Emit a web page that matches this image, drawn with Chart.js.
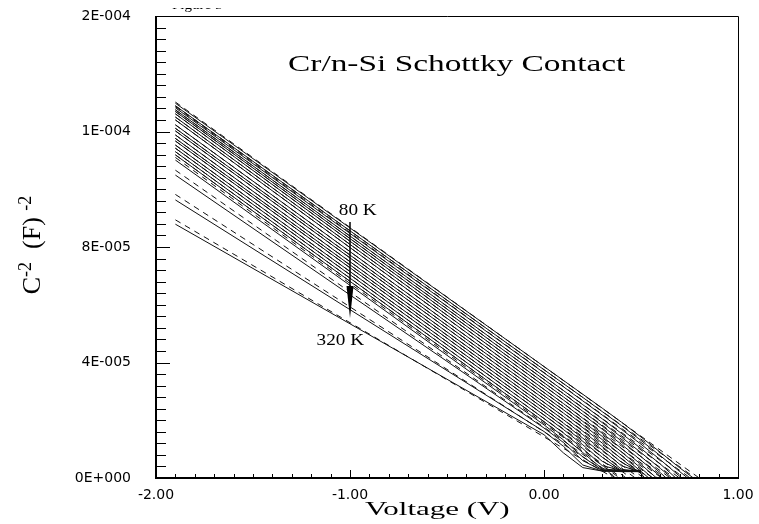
<!DOCTYPE html>
<html>
<head>
<meta charset="utf-8">
<script src="https://cdn.jsdelivr.net/npm/chart.js@4.4.1/dist/chart.umd.min.js"></script>
<style>
  html, body { margin: 0; padding: 0; background: #fff; }
</style>
</head>
<body>
<canvas id="cv" width="759" height="524"></canvas>
<script>
// bias points (V)
const volts = [-1.9, -1.0, -0.5, 0.0, 0.1, 0.2, 0.3, 0.4, 0.5, 0.6, 0.7];
const temps = [80, 90, 100, 110, 120, 130, 140, 150, 160, 170, 180, 190, 200,
               210, 220, 230, 240, 250, 260, 280, 300, 320];

// C^-2 in units of 1e-6 F^-2, one row per temperature
const curves = [
  [129.8, 86.6, 62.6, 38.6, 33.8, 29.0, 24.2, 19.3, 14.2, 8.9, 3.5],
  [128.9, 85.6, 61.6, 37.5, 32.7, 27.9, 23.0, 18.1, 13.0, 7.7, 2.2],
  [128.2, 84.7, 60.6, 36.4, 31.6, 26.7, 21.8, 16.8, 11.7, 6.3, null],
  [127.5, 83.8, 59.5, 35.2, 30.3, 25.4, 20.5, 15.4, 10.2, 4.8, null],
  [126.9, 82.9, 58.5, 34.1, 29.2, 24.2, 19.2, 14.1, 8.8, 3.3, null],
  [126.1, 82.0, 57.5, 33.0, 28.1, 23.1, 18.0, 12.8, 7.4, 1.8, null],
  [125.0, 80.9, 56.4, 31.9, 27.0, 22.0, 16.9, 11.6, 6.1, null, null],
  [124.0, 79.8, 55.3, 30.7, 25.8, 20.7, 15.5, 10.2, 4.7, null, null],
  [122.3, 78.4, 54.0, 29.6, 24.7, 19.6, 14.4, 9.0, 3.4, null, null],
  [121.1, 77.2, 52.9, 28.5, 23.6, 18.5, 13.3, 7.8, 2.3, null, null],
  [120.2, 76.2, 51.8, 27.4, 22.5, 17.4, 12.1, 6.6, 1.5, null, null],
  [118.8, 74.9, 50.6, 26.2, 21.3, 16.2, 10.9, 5.4, 1.8, null, null],
  [117.6, 73.8, 49.5, 25.1, 20.2, 15.0, 9.7, 4.2, 2.0, null, null],
  [116.7, 72.8, 48.4, 24.0, 19.0, 13.8, 8.4, 3.0, 2.1, null, null],
  [115.3, 71.5, 47.2, 22.9, 17.9, 12.7, 7.2, 2.5, 2.3, null, null],
  [114.2, 70.4, 46.1, 21.8, 16.8, 11.5, 5.8, 2.4, 2.2, null, null],
  [113.0, 69.2, 44.9, 20.6, 15.6, 10.2, 4.3, 2.6, 2.5, null, null],
  [111.9, 68.1, 43.8, 19.5, 14.4, 8.8, 3.2, 2.5, 2.4, null, null],
  [110.1, 66.7, 42.5, 18.4, 13.2, 7.3, 2.8, 2.7, 2.7, null, null],
  [104.9, 63.4, 40.4, 17.3, 12.3, 6.0, 2.6, 2.5, 2.6, null, null],
  [96.3, 58.3, 37.2, 16.1, 11.0, 4.5, 2.4, 2.3, 2.3, null, null],
  [87.9, 53.4, 34.2, 15.0, 8.7, 3.6, 2.4, 2.2, 2.2, null, null]
];
// voltage where a curve runs into the axis (null = stops at 0.5 V)
const curveEnds = [0.77, 0.74, 0.71, 0.68, 0.66, 0.63, 0.61, 0.58, 0.56, 0.54, 0.52,
                   null, null, null, null, null, null, null, null, null, null, null];

// dashed linear fits: value at -1.9 V and zero crossing
const fitStart = [130.2, 128.9, 128.6, 127.5, 126.9, 126.1, 125.0, 124.0, 122.3, 121.1, 120.2,
                  118.8, 117.6, 116.7, 115.3, 114.2, 113.0, 111.9, 111.0, 106.6, 98.2, 89.4];
const fitZero = [0.80, 0.78, 0.754, 0.724, 0.699, 0.673, 0.651, 0.625, 0.607, 0.585, 0.561,
                 0.538, 0.515, 0.492, 0.471, 0.449, 0.424, 0.401, 0.39, 0.375, 0.37, 0.36];

const xTickLabels = ["-2.00", "-1.00", "0.00", "1.00"];
const yTickLabels = ["0E+000", "4E-005", "8E-005", "1E-004", "2E-004"];

const serif = "'Liberation Serif', 'Times New Roman', serif";

const datasets = [];
temps.forEach((t, i) => {
    const pts = [];
    volts.forEach((v, j) => {
        if (curves[i][j] !== null) pts.push({ x: v, y: curves[i][j] });
    });
    if (curveEnds[i] !== null) pts.push({ x: curveEnds[i], y: 0 });
    datasets.push({ label: t + " K", data: pts, borderColor: "#111", borderWidth: 1 });
    datasets.push({
        label: t + " K fit",
        data: [{ x: volts[0], y: fitStart[i] }, { x: fitZero[i], y: 0 }],
        borderColor: "#111",
        borderWidth: 1,
        borderDash: [6, 5],
    });
});

// centred text, stretched sideways like the old plotting package did
function wideText(ctx, text, cx, cy, size, sx) {
    ctx.save();
    ctx.translate(cx, cy);
    ctx.scale(sx, 1);
    ctx.font = size + "px " + serif;
    ctx.textAlign = "center";
    ctx.textBaseline = "middle";
    ctx.fillText(text, 0, 0);
    ctx.restore();
}

// box, inward ticks and the free text
const decorations = {
    id: "decorations",
    afterDraw(chart) {
        const { ctx, chartArea: a, scales: { x, y } } = chart;
        ctx.save();
        ctx.strokeStyle = "#000";
        ctx.fillStyle = "#000";

        ctx.lineWidth = 1;
        ctx.beginPath();
        ctx.moveTo(a.left, a.top + 0.5);
        ctx.lineTo(a.right + 0.5, a.top + 0.5);
        ctx.lineTo(a.right + 0.5, a.bottom);
        ctx.stroke();
        ctx.lineWidth = 2;
        ctx.beginPath();
        ctx.moveTo(a.left, a.top);
        ctx.lineTo(a.left, a.bottom);
        ctx.lineTo(a.right + 1, a.bottom);
        ctx.stroke();

        ctx.lineWidth = 1;
        ctx.beginPath();
        x.ticks.forEach((t, i) => {
            const px = Math.round(x.getPixelForValue(t.value)) + 0.5;
            ctx.moveTo(px, a.bottom);
            ctx.lineTo(px, a.bottom - (i % 10 === 0 ? 8 : 4));
        });
        y.ticks.forEach((t, i) => {
            const py = Math.round(y.getPixelForValue(t.value)) + 0.5;
            ctx.moveTo(a.left, py);
            ctx.lineTo(a.left + (i % 10 === 0 ? 14 : 10), py);
        });
        ctx.stroke();

        // temperature arrow
        const ax = x.getPixelForValue(-1.0);
        const aTop = y.getPixelForValue(88.7);
        const aHead = y.getPixelForValue(66.5);
        const aTip = y.getPixelForValue(55.4);
        ctx.lineWidth = 1.5;
        ctx.beginPath();
        ctx.moveTo(ax, aTop);
        ctx.lineTo(ax, aHead);
        ctx.stroke();
        ctx.beginPath();
        ctx.moveTo(ax - 3.5, aHead);
        ctx.lineTo(ax + 3.5, aHead);
        ctx.lineTo(ax, aTip);
        ctx.closePath();
        ctx.fill();

        wideText(ctx, "80 K", x.getPixelForValue(-0.96), y.getPixelForValue(92.5), 16, 1.2);
        wideText(ctx, "320 K", x.getPixelForValue(-1.05), y.getPixelForValue(47.4), 16, 1.2);
        wideText(ctx, "Cr/n-Si Schottky Contact", x.getPixelForValue(-0.45), y.getPixelForValue(143), 24, 1.39);
        wideText(ctx, "Voltage (V)", x.getPixelForValue(-0.55), 510, 18, 1.72);

        // cut-off figure caption at the very top
        ctx.save();
        ctx.beginPath();
        ctx.rect(0, 8, 759, 20);
        ctx.clip();
        ctx.textAlign = "left";
        ctx.textBaseline = "alphabetic";
        ctx.font = "15px " + serif;
        ctx.fillText("Figure 5", 172, 9);
        ctx.restore();

        // y title with superscripts, rotated
        ctx.translate(40, 245);
        ctx.rotate(-Math.PI / 2);
        ctx.textAlign = "left";
        ctx.textBaseline = "alphabetic";
        const parts = [["C", 26, 0], ["-2", 18, -9], ["  (F) ", 26, 0], ["-2", 18, -9]];
        let w = 0;
        parts.forEach(([s, f]) => { ctx.font = f + "px " + serif; w += ctx.measureText(s).width; });
        let cx = -w / 2;
        parts.forEach(([s, f, dy]) => {
            ctx.font = f + "px " + serif;
            ctx.fillText(s, cx, dy);
            cx += ctx.measureText(s).width;
        });
        ctx.restore();
    },
};

new Chart(document.getElementById("cv"), {
    type: "line",
    data: { datasets },
    options: {
        responsive: false,
        animation: false,
        devicePixelRatio: 1,
        layout: { padding: { top: 16, right: 21, left: 0, bottom: 0 } },
        elements: { point: { radius: 0 }, line: { tension: 0 } },
        plugins: { legend: { display: false }, tooltip: { enabled: false } },
        scales: {
            x: {
                type: "linear",
                min: -2,
                max: 1,
                grid: { display: false, drawTicks: false },
                border: { display: false },
                ticks: {
                    stepSize: 0.1,
                    autoSkip: false,
                    maxRotation: 0,
                    padding: 9,
                    color: "#000",
                    font: { family: "'DejaVu Sans'", size: 14 },
                    callback: (v, i) => (i % 10 === 0 ? xTickLabels[i / 10] : ""),
                },
                afterFit: (s) => {
                    s.height = 46;
                    s.paddingLeft = 0;
                    s.paddingRight = 0;
                },
            },
            y: {
                min: 0,
                max: 160,
                grid: { display: false, drawTicks: false },
                border: { display: false },
                ticks: {
                    stepSize: 4,
                    autoSkip: false,
                    padding: 25,
                    color: "#000",
                    font: { family: "'DejaVu Sans'", size: 14 },
                    callback: (v, i) => (i % 10 === 0 ? yTickLabels[i / 10] : ""),
                },
                afterFit: (s) => {
                    s.width = 156;
                    s.paddingTop = 0;
                    s.paddingBottom = 0;
                },
            },
        },
    },
    plugins: [decorations],
});
</script>
</body>
</html>
